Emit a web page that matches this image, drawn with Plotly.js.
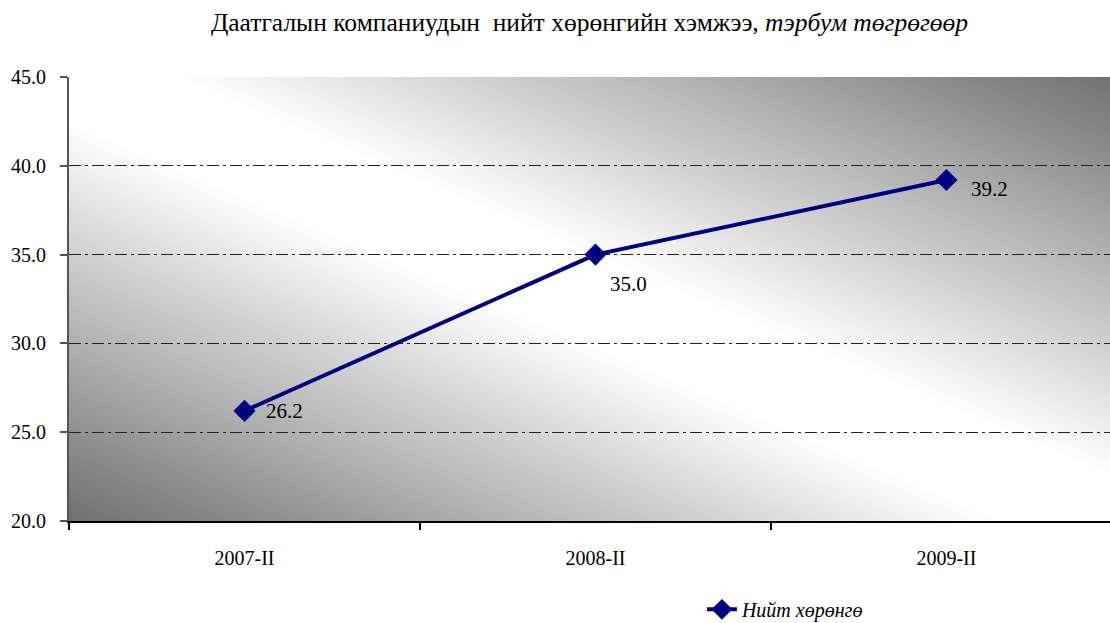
<!DOCTYPE html>
<html>
<head>
<meta charset="utf-8">
<script src="https://cdn.plot.ly/plotly-3.0.1.min.js"></script>
<style>html,body{margin:0;padding:0;background:#fff;}#chart{width:1110px;height:623px;}</style>
</head>
<body>
<div id="chart"></div>
<script>
// ---- data ----
const categories = ["2007-II", "2008-II", "2009-II"];
const totalAssets = [26.2, 35.0, 39.2];
const seriesName = "Нийт хөрөнгө";
const titleMain = "Даатгалын компаниудын  нийт хөрөнгийн хэмжээ, ";
const titleUnit = "тэрбум төгрөгөөр";
const yTicks = [20, 25, 30, 35, 40, 45];

// label offsets (style only)
const labelShiftX = [20, 13, 23];
const labelShiftY = [0, -29, -9];

// gradient background image for plot area
function gradientURI() {
  const c = document.createElement('canvas');
  c.width = 400; c.height = 400;
  const ctx = c.getContext('2d');
  const g = ctx.createLinearGradient(0, 400, 400, 0);
  g.addColorStop(0, '#707070');
  g.addColorStop(0.45, '#ffffff');
  g.addColorStop(0.55, '#ffffff');
  g.addColorStop(1, '#727272');
  ctx.fillStyle = g;
  ctx.fillRect(0, 0, 400, 400);
  return c.toDataURL('image/png');
}

const serif = "Liberation Serif, Times New Roman, serif";

const trace = {
  x: categories,
  y: totalAssets,
  type: 'scatter',
  mode: 'lines+markers',
  name: seriesName,
  line: { color: '#000080', width: 4 },
  marker: { symbol: 'diamond', size: 17, color: '#000080' },
  hoverinfo: 'x+y'
};

const annotations = totalAssets.map((v, i) => ({
  x: categories[i], y: v, xref: 'x', yref: 'y',
  text: v.toFixed(1), showarrow: false,
  xanchor: 'left', yanchor: 'middle',
  xshift: labelShiftX[i], yshift: labelShiftY[i],
  font: { family: serif, size: 21, color: '#000' }
}));

const layout = {
  width: 1110, height: 623,
  margin: { l: 69, r: 0, t: 77, b: 102, autoexpand: false },
  paper_bgcolor: '#ffffff',
  plot_bgcolor: 'rgba(0,0,0,0)',
  title: {
    text: titleMain + '<i>' + titleUnit + '</i>',
    font: { family: serif, size: 25.5, color: '#000' },
    x: 0.5, xref: 'paper', xanchor: 'center',
    y: 1 - 22 / 623, yref: 'container', yanchor: 'middle'
  },
  xaxis: {
    type: 'category',
    range: [-0.5, 2.466],
    tickson: 'boundaries',
    ticks: 'outside', ticklen: 7, tickwidth: 2, tickcolor: '#000',
    ticklabelstandoff: 18,
    showline: true, linecolor: '#000', linewidth: 2,
    showgrid: false, zeroline: false,
    tickfont: { family: serif, size: 20, color: '#000' },
    fixedrange: true
  },
  yaxis: {
    range: [20, 45],
    tickvals: yTicks,
    tickformat: '.1f',
    ticks: 'outside', ticklen: 7, tickwidth: 2, tickcolor: '#555',
    ticklabelstandoff: 10,
    showline: true, linecolor: '#555', linewidth: 2,
    showgrid: true, gridcolor: '#222', gridwidth: 1, griddash: '12px,4px,3px,4px',
    zeroline: false,
    tickfont: { family: serif, size: 20, color: '#000' },
    fixedrange: true
  },
  images: [{
    source: gradientURI(),
    xref: 'paper', yref: 'paper', x: 0, y: 1, sizex: 1, sizey: 1,
    sizing: 'stretch', xanchor: 'left', yanchor: 'top', layer: 'below'
  }],
  showlegend: true,
  legend: {
    orientation: 'h', x: 0.608, xanchor: 'left', y: -0.155, yanchor: 'top',
    font: { family: serif, size: 20, color: '#000', style: 'italic' },
    bgcolor: 'rgba(0,0,0,0)'
  },
  annotations: annotations
};

Plotly.newPlot('chart', [trace], layout, { displayModeBar: false });
</script>
</body>
</html>
